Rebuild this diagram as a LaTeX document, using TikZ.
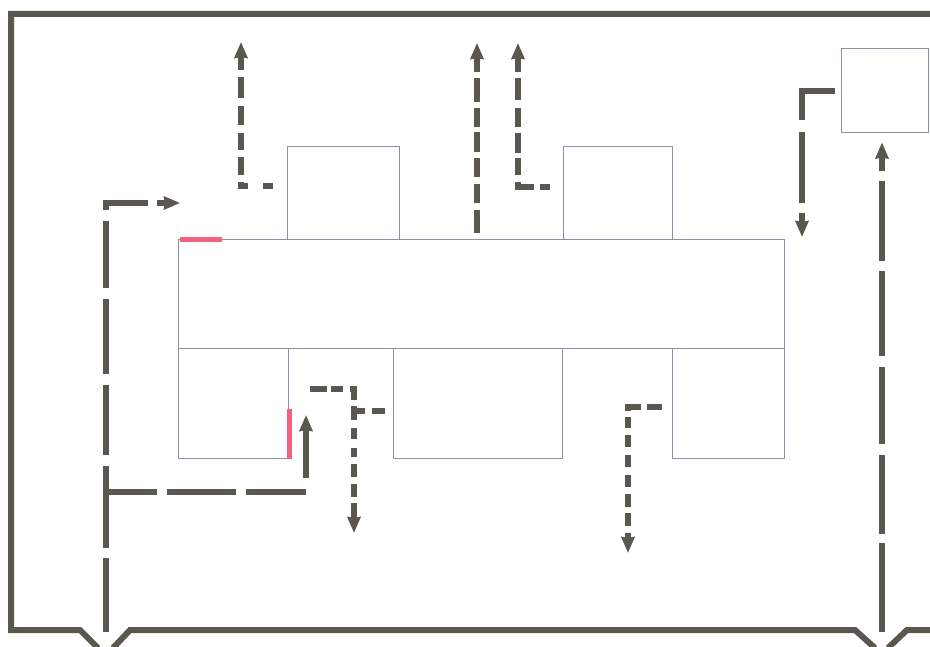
\documentclass[tikz,border=0pt]{standalone}
\usetikzlibrary{arrows.meta}
\definecolor{inkGrey}{HTML}{5A5650}
\definecolor{boxGrey}{HTML}{8593A3}
\definecolor{markRed}{HTML}{F0627F}
\tikzstyle{boxPlain} = [rectangle, draw=boxGrey, line width=1pt, fill=white, inner sep=0pt]
\tikzstyle{wall} = [draw=inkGrey, line width=6pt, line join=miter]
\tikzstyle{arrow} = [draw=inkGrey, line width=6.5pt, -{Stealth[length=16pt,width=13pt,inset=1pt]}]
\tikzstyle{plainline} = [draw=inkGrey, line width=6.5pt]
\tikzstyle{redmark} = [draw=markRed, line width=5pt]

\begin{document}
\begin{tikzpicture}[x=1pt,y=-1pt]
\useasboundingbox (0,0) rectangle (930,647);

\draw [wall] (930,14) -- (11,14) -- (11,630) -- (80,630) -- (98,648);
\draw [wall] (113,648) -- (130,630) -- (855,630) -- (875,648);
\draw [wall] (888,648) -- (907,630) -- (930,630);

\node (topA) [boxPlain, minimum width=112pt, minimum height=93pt] at (343,193.5) {};
\node (topB) [boxPlain, minimum width=109pt, minimum height=93pt] at (617.5,193.5) {};
\node (botA) [boxPlain, minimum width=110pt, minimum height=109pt] at (233,403.5) {};
\node (botB) [boxPlain, minimum width=169pt, minimum height=109pt] at (477.5,403.5) {};
\node (botC) [boxPlain, minimum width=112pt, minimum height=109pt] at (728,403.5) {};
\node (bar) [boxPlain, minimum width=606pt, minimum height=109pt] at (481,294.5) {};
\node (side) [boxPlain, minimum width=87pt, minimum height=84pt] at (884.5,91) {};

\draw [redmark] (bar.north west) ++(2,0) -- ++(42,0);
\draw [redmark] (botA.south east) ++(1,0) -- ++(0,-50);

% free ends
\coordinate (feedL) at (106,632);
\coordinate (feedLtip) at (180,203);
\coordinate (tee) at (106,492);
\coordinate (teeTip) at (306,415);
\coordinate (feedR) at (882,632);
\coordinate (upA) at (273,186);
\coordinate (upAtip) at (241,42);
\coordinate (upB) at (477,233);
\coordinate (upBtip) at (477,43);
\coordinate (upC) at (550,187);
\coordinate (upCtip) at (518,43);
\coordinate (downA) at (310,389);
\coordinate (downAtip) at (354,533);
\coordinate (sideIn) at (385,411);
\coordinate (sideInEnd) at (354,411);
\coordinate (downB) at (662,407);
\coordinate (downBtip) at (628,553);
\coordinate (sideTip) at (802,237);

\draw [arrow, dash pattern=on 74pt off 10pt on 82pt off 11pt on 70pt off 11pt on 75pt off 11pt on 67pt off 11pt on 49pt off 9pt on 40pt off 10pt] (feedL) |- (feedLtip);
\draw [arrow, dash pattern=on 51pt off 10pt on 69pt off 10pt on 60pt off 14pt on 70pt off 10pt] (tee) -| (teeTip);
\draw [arrow, shorten >=9pt, dash pattern=on 89pt off 9pt on 79pt off 11pt on 77pt off 11pt on 85pt off 10pt on 80pt off 10pt on 60pt off 10pt] (feedR) -- (feedR |- side.south);
\draw [arrow, dash pattern=on 62pt off 12pt on 71pt off 10pt on 40pt off 10pt, shorten <=6pt] (side.west) -| (sideTip);
\draw [arrow, dash pattern=on 10pt off 15pt on 11pt off 7pt on 18pt off 7pt on 17pt off 8pt on 19pt off 8pt on 21pt off 7pt on 40pt off 10pt] (upA) -| (upAtip);
\draw [arrow, dash pattern=on 23pt off 7pt on 19pt off 7pt on 19pt off 6pt on 20pt off 5pt on 19pt off 6pt on 24pt off 6pt on 40pt off 10pt] (upB) -- (upBtip);
\draw [arrow, dash pattern=on 10pt off 6pt on 21pt off 7pt on 17pt off 5pt on 20pt off 6pt on 19pt off 8pt on 22pt off 6pt on 40pt off 10pt] (upC) -| (upCtip);
\draw [arrow, dash pattern=on 17pt off 4pt on 12pt off 7pt on 15pt off 6pt on 14pt off 8pt on 11pt off 9pt on 9pt off 7pt on 13pt off 7pt on 13pt off 6pt on 40pt off 10pt] (downA) -| (downAtip);
\draw [plainline, dash pattern=on 13pt off 7pt on 11pt off 50pt] (sideIn) -- (sideInEnd);
\draw [arrow, dash pattern=on 15pt off 6pt on 17pt off 6pt on 11pt off 7pt on 12pt off 8pt on 12pt off 8pt on 12pt off 7pt on 13pt off 6pt on 13pt off 7pt on 40pt off 10pt] (downB) -| (downBtip);

\end{tikzpicture}
\end{document}
